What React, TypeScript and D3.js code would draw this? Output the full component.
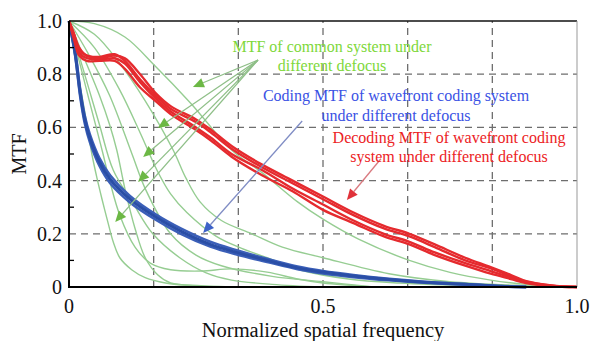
import React from 'react';
import * as d3 from 'd3';

// Green: MTF of common system under different defocus
const greenCurves: { f: number[]; m: number[] }[] = [
  { f: [0, 0.05, 0.11, 0.17, 0.24, 0.32, 0.38, 0.45, 0.5, 0.57, 0.67, 0.75, 0.83, 0.9, 1], m: [1, 0.99, 0.94, 0.83, 0.69, 0.515, 0.43, 0.32, 0.255, 0.18, 0.1, 0.055, 0.026, 0.01, 0] },
  { f: [0, 0.05, 0.1, 0.15, 0.205, 0.23, 0.258, 0.3, 0.36, 0.42, 0.5, 0.63, 0.75, 0.9, 1], m: [1, 0.95, 0.84, 0.7, 0.515, 0.41, 0.32, 0.25, 0.2, 0.15, 0.11, 0.05, 0.02, 0.005, 0] },
  { f: [0, 0.05, 0.1, 0.14, 0.173, 0.2, 0.232, 0.29, 0.34, 0.39, 0.455, 0.55, 0.65, 0.8, 1], m: [1, 0.9, 0.74, 0.58, 0.44, 0.35, 0.28, 0.19, 0.145, 0.11, 0.064, 0.03, 0.015, 0.005, 0] },
  { f: [0, 0.04, 0.08, 0.124, 0.15, 0.2, 0.25, 0.3, 0.4, 0.5, 0.6], m: [1, 0.87, 0.72, 0.5, 0.37, 0.2, 0.12, 0.08, 0.04, 0.02, 0] },
  { f: [0, 0.03, 0.06, 0.08, 0.094, 0.11, 0.13, 0.15, 0.175, 0.2, 0.26, 0.35], m: [1, 0.86, 0.72, 0.61, 0.515, 0.37, 0.22, 0.11, 0.045, 0.015, 0.005, 0] },
  { f: [0, 0.02, 0.04, 0.06, 0.087, 0.126, 0.165, 0.218, 0.27, 0.32, 0.4, 0.5], m: [1, 0.87, 0.74, 0.61, 0.44, 0.315, 0.2, 0.11, 0.053, 0.026, 0.01, 0] },
  { f: [0, 0.02, 0.04, 0.055, 0.067, 0.08, 0.1, 0.13, 0.16, 0.2, 0.26, 0.32, 0.39, 0.45, 0.5, 0.6], m: [1, 0.85, 0.7, 0.59, 0.5, 0.4, 0.27, 0.15, 0.09, 0.065, 0.06, 0.068, 0.056, 0.03, 0.015, 0] },
  { f: [0, 0.015, 0.03, 0.045, 0.055, 0.065, 0.077, 0.087, 0.1, 0.124, 0.15, 0.19, 0.25, 0.3], m: [1, 0.83, 0.67, 0.5, 0.41, 0.33, 0.24, 0.17, 0.11, 0.064, 0.035, 0.015, 0.004, 0] },
];

// Blue: coding MTF of wavefront coding system
const blueF = [0, 0.012, 0.022, 0.031, 0.041, 0.06, 0.081, 0.12, 0.173, 0.22, 0.278, 0.33, 0.39, 0.45, 0.5, 0.56, 0.63, 0.7, 0.8, 0.85, 0.9];
const blue1 = [1, 0.88, 0.73, 0.63, 0.56, 0.47, 0.405, 0.33, 0.26, 0.21, 0.16, 0.13, 0.1, 0.072, 0.056, 0.041, 0.028, 0.018, 0.008, 0.003, 0];
const blue2 = [1, 0.89, 0.745, 0.645, 0.575, 0.485, 0.42, 0.342, 0.27, 0.22, 0.17, 0.138, 0.106, 0.077, 0.06, 0.045, 0.031, 0.02, 0.009, 0.004, 0];
const blue3 = [1, 0.87, 0.715, 0.615, 0.545, 0.455, 0.39, 0.318, 0.25, 0.2, 0.152, 0.122, 0.094, 0.067, 0.051, 0.037, 0.025, 0.016, 0.007, 0.002, 0];

// Red: decoding MTF of wavefront coding system
const redF = [0, 0.01, 0.02, 0.035, 0.06, 0.09, 0.11, 0.14, 0.17, 0.2, 0.25, 0.28, 0.32, 0.38, 0.44, 0.5, 0.56, 0.62, 0.67, 0.72, 0.78, 0.83, 0.87, 0.9, 0.95, 1];
const red1 = [1, 0.95, 0.9, 0.87, 0.865, 0.875, 0.85, 0.78, 0.72, 0.67, 0.62, 0.58, 0.52, 0.45, 0.39, 0.33, 0.27, 0.22, 0.19, 0.15, 0.1, 0.07, 0.04, 0.02, 0.005, 0];
const red2 = [1, 0.94, 0.88, 0.86, 0.855, 0.86, 0.84, 0.77, 0.71, 0.66, 0.6, 0.56, 0.5, 0.44, 0.37, 0.31, 0.25, 0.2, 0.17, 0.13, 0.09, 0.06, 0.035, 0.018, 0.004, 0];
const red3 = [1, 0.93, 0.87, 0.85, 0.85, 0.85, 0.82, 0.75, 0.7, 0.65, 0.59, 0.55, 0.49, 0.42, 0.36, 0.29, 0.24, 0.19, 0.16, 0.12, 0.08, 0.05, 0.03, 0.015, 0.003, 0];
const red4 = [1, 0.95, 0.89, 0.87, 0.86, 0.87, 0.86, 0.8, 0.73, 0.68, 0.63, 0.59, 0.53, 0.46, 0.4, 0.34, 0.28, 0.23, 0.2, 0.16, 0.11, 0.075, 0.045, 0.022, 0.006, 0];

const yTicks = [0, 0.2, 0.4, 0.6, 0.8, 1.0];
const yTickLabels = ['0', '0.2', '0.4', '0.6', '0.8', '1.0'];
const yMinor = [0.1, 0.3, 0.5, 0.7, 0.9];
const xTicks = [0, 0.5, 1.0];
const xTickLabels = ['0', '0.5', '1.0'];
const xGrid = [1 / 6, 2 / 6, 3 / 6, 4 / 6, 5 / 6];
const yGrid = [0.2, 0.4, 0.6, 0.8];

// annotation arrows in data units
const greenArrowFrom = [0.372, 0.853];
const greenArrowTo = [[0.244, 0.752], [0.175, 0.598], [0.146, 0.489], [0.136, 0.395], [0.091, 0.244]];
const blueArrow = [0.459, 0.624, 0.264, 0.203];
const redArrow = [0.614, 0.482, 0.547, 0.327];

const W = 591;
const H = 341;
const margin = { top: 21, right: 14, bottom: 54, left: 69 };
const FONT = '"Liberation Serif", "DejaVu Serif", "Times New Roman", serif';

function Arrow({ x1, y1, x2, y2, line, head, size }: any) {
  const ang = Math.atan2(y2 - y1, x2 - x1);
  const bx = x2 - size * Math.cos(ang);
  const by = y2 - size * Math.sin(ang);
  const w = size * 0.45;
  const p1 = [bx + w * Math.sin(ang), by - w * Math.cos(ang)];
  const p2 = [bx - w * Math.sin(ang), by + w * Math.cos(ang)];
  return (
    <g>
      <line x1={x1} y1={y1} x2={bx} y2={by} stroke={line} strokeWidth={1.3} />
      <polygon points={`${x2},${y2} ${p1[0]},${p1[1]} ${p2[0]},${p2[1]}`} fill={head} />
    </g>
  );
}

export default function App() {
  const iw = W - margin.left - margin.right;
  const ih = H - margin.top - margin.bottom;
  const x = d3.scaleLinear().domain([0, 1]).range([margin.left, margin.left + iw]);
  const y = d3.scaleLinear().domain([0, 1]).range([margin.top + ih, margin.top]);

  const line = (fs: number[], ms: number[]) =>
    d3.line<number>()
      .x((_, i) => x(fs[i]))
      .y((d) => y(Math.max(0, d)))
      .curve(d3.curveCatmullRom.alpha(0.5))(ms) as string;

  const ts = { fontFamily: FONT };

  return (
    <svg width={W} height={H} style={{ position: 'absolute', left: 0, top: 0, background: '#fff' }}>
      {/* grid */}
      {xGrid.map((g, i) => (
        <line key={'xg' + i} x1={x(g)} x2={x(g)} y1={y(0)} y2={y(1)} stroke="#6e6e6e" strokeWidth={1.3} strokeDasharray="7,5" />
      ))}
      {yGrid.map((g, i) => (
        <line key={'yg' + i} x1={x(0)} x2={x(1)} y1={y(g)} y2={y(g)} stroke="#6e6e6e" strokeWidth={1.3} strokeDasharray="7,5" />
      ))}

      {/* green curves */}
      {greenCurves.map((c, i) => (
        <path key={'g' + i} d={line(c.f, c.m)} fill="none" stroke="#96cd92" strokeWidth={1.4} />
      ))}

      {/* blue curves */}
      <path d={line(blueF, blue2)} fill="none" stroke="#3b5fb8" strokeWidth={2.5} />
      <path d={line(blueF, blue3)} fill="none" stroke="#3b5fb8" strokeWidth={2.5} />
      <path d={line(blueF, blue1)} fill="none" stroke="#2a4ea6" strokeWidth={3} />

      {/* red curves */}
      {[red1, red2, red3, red4].map((r, i) => (
        <path key={'r' + i} d={line(redF, r)} fill="none" stroke="#e52a2e" strokeWidth={2.4} />
      ))}

      {/* arrows */}
      {greenArrowTo.map((t, i) => (
        <Arrow key={'ga' + i} x1={x(greenArrowFrom[0])} y1={y(greenArrowFrom[1])} x2={x(t[0])} y2={y(t[1])} line="#8fbf88" head="#6cb845" size={11} />
      ))}
      <Arrow x1={x(blueArrow[0])} y1={y(blueArrow[1])} x2={x(blueArrow[2])} y2={y(blueArrow[3])} line="#7f8cc4" head="#3d62c8" size={11} />
      <Arrow x1={x(redArrow[0])} y1={y(redArrow[1])} x2={x(redArrow[2])} y2={y(redArrow[3])} line="#d97a80" head="#e0323a" size={11} />

      {/* frame */}
      <line x1={x(0)} x2={x(1)} y1={y(1)} y2={y(1)} stroke="#111" strokeWidth={1.5} />
      <line x1={x(1)} x2={x(1)} y1={y(0)} y2={y(1)} stroke="#999" strokeWidth={1} />
      <line x1={x(0)} x2={x(0)} y1={y(0) + 1} y2={y(1)} stroke="#000" strokeWidth={2} />
      <line x1={x(0)} x2={x(1)} y1={y(0)} y2={y(0)} stroke="#000" strokeWidth={2} />
      {yMinor.map((t, i) => (
        <line key={'ym' + i} x1={x(0)} x2={x(0) + 5} y1={y(t)} y2={y(t)} stroke="#000" strokeWidth={1.3} />
      ))}

      {/* tick labels */}
      {yTicks.map((t, i) => (
        <text key={'yt' + i} style={ts} x={x(0) - 7} y={y(t)} dy="0.35em" textAnchor="end" fontSize={20} fill="#111">{yTickLabels[i]}</text>
      ))}
      {xTicks.map((t, i) => (
        <text key={'xt' + i} style={ts} x={x(t)} y={y(0) + 26} textAnchor="middle" fontSize={20} fill="#111">{xTickLabels[i]}</text>
      ))}

      <text style={ts} x={x(0.5)} y={337} textAnchor="middle" fontSize={20.5} fill="#111">Normalized spatial frequency</text>
      <text style={ts} transform={`translate(${26},${y(0.5)}) rotate(-90)`} textAnchor="middle" fontSize={20} fill="#111">MTF</text>

      {/* annotations */}
      <g style={ts} fontSize={16} textAnchor="middle">
        <text x={332} y={52} fill="#7ed83a">MTF of common system under</text>
        <text x={332} y={71} fill="#7ed83a">different defocus</text>
        <text x={396} y={101} fill="#3a52e4">Coding MTF of wavefront coding system</text>
        <text x={396} y={121} fill="#3a52e4">under different defocus</text>
        <text x={449} y={143} fill="#ec2224">Decoding MTF of wavefront coding</text>
        <text x={449} y={162} fill="#ec2224">system under different defocus</text>
      </g>
    </svg>
  );
}
